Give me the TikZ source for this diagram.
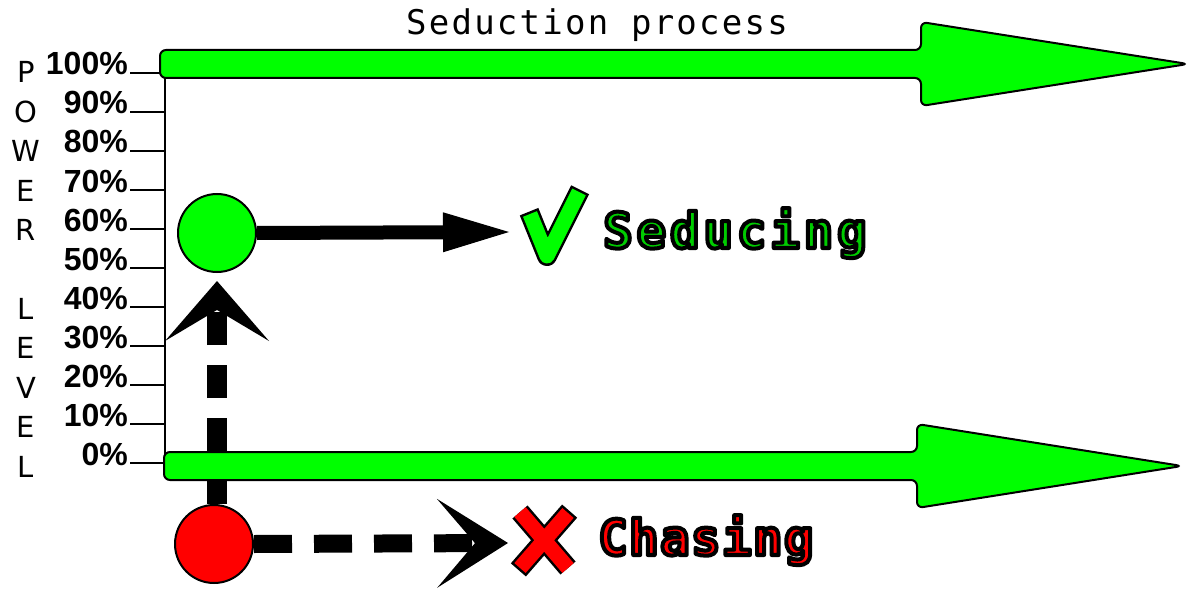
\documentclass[tikz,border=0pt]{standalone}
\usepackage{fontspec}
\usetikzlibrary{arrows.meta}
\setmainfont{DejaVu Sans}
\newfontfamily\tickfont{Liberation Sans}
\newfontfamily\titlefont{DejaVu Sans Mono}[LetterSpace=6.6]
\newfontfamily\wordfont{DejaVu Sans Mono}[LetterSpace=8]
\newfontfamily\chasefont{DejaVu Sans Mono}[LetterSpace=3]
\definecolor{arrowgreen}{HTML}{00FF00}
\definecolor{wordgreen}{HTML}{00CC00}
\definecolor{stopred}{HTML}{FF0000}
\newcommand\inked[1]{\special{pdf:literal direct 2 Tr 4 w 0 0 0 RG 1 j}#1\special{pdf:literal direct 0 Tr}}

\begin{document}
\begin{tikzpicture}[x=1pt,y=-1pt,
    bigarrow/.style={draw=black,line width=2pt,fill=arrowgreen,rounded corners=6pt},
    state/.style={circle,draw=black,line width=2pt,minimum size=78pt,inner sep=0pt},
    edgestroke/.style={line width=#1,line join=round,shorten <=-2.5pt,shorten >=-2.5pt},
    word/.style={anchor=base west,inner sep=0pt},
    wordsize/.style={font=#1\bfseries\fontsize{49}{49}\selectfont}]
  \useasboundingbox (0,0) rectangle (1199,591);
  \node[anchor=base,inner sep=0pt,font=\titlefont\fontsize{34}{34}\selectfont] (title) at (597,35) {Seduction process};
  \draw[line width=2pt] (165,66) -- (165,472);
  \foreach \p [count=\i from 0] in {100,90,...,0}{
    \draw[line width=2pt] (130,73+39*\i) -- (165,73+39*\i);
    \node[anchor=base east,inner sep=0pt,font=\tickfont\bfseries\fontsize{32}{32}\selectfont] (tick\p) at (128,75+39*\i) {\p\%};}
  \foreach \c/\i in {P/0,O/1,W/2,E/3,R/4,L/6,E/7,V/8,E/9,L/10}
    \node[anchor=base,inner sep=0pt,font=\fontsize{29}{29}\selectfont] (letter\i) at (26,83+39.4*\i) {\c};
  \node[state,fill=arrowgreen] (seduce) at (217,233) {};
  \node[state,fill=stopred] (chase) at (214,544) {};
  \coordinate (seduceend) at (509,232);
  \coordinate (chaseend) at (508,543);
  \draw[line width=20pt,dash pattern=on 33pt off 20pt,shorten >=8pt,
    -{Stealth[length=60pt,width=104pt,inset=31pt,line width=0pt]}] (seduce.south |- chase.north) -- (seduce.south);
  \draw[line width=14pt,-{Triangle[length=66pt,width=40pt,line width=0pt]}] (seduce.east) -- (seduceend);
  \draw[line width=18pt,dash pattern=on 38pt off 22pt,
    -{Stealth[length=71pt,width=89pt,inset=38pt,line width=0pt]}] (chase.east) -- (chaseend);
  \foreach \y/\l/\b/\t in {64/160/921/1188, 466/164/917/1182}
    \draw[bigarrow] (\l,\y-14) -- (\b,\y-14) -- (\b,\y-42) -- (\t,\y) -- (\b,\y+42) -- (\b,\y+14) -- (\l,\y+14) -- cycle;
  \draw[edgestroke=20pt] (530,214) -- (547,256) -- (579,192);
  \draw[edgestroke=15pt,arrowgreen,shorten <=0pt,shorten >=0pt] (530,214) -- (547,256) -- (579,192);
  \draw[edgestroke=20pt] (520,512) -- (568,568) (568,513) -- (520,568);
  \draw[edgestroke=15pt,stopred,shorten <=0pt,shorten >=0pt] (520,512) -- (568,568) (568,513) -- (520,568);
  \node[word,wordsize=\wordfont,text=wordgreen] (seducing) at (603,248) {\inked{Seducing}};
  \node[word,wordsize=\chasefont,text=stopred] (chasing) at (598,555) {\inked{Chasing}};
\end{tikzpicture}
\end{document}
